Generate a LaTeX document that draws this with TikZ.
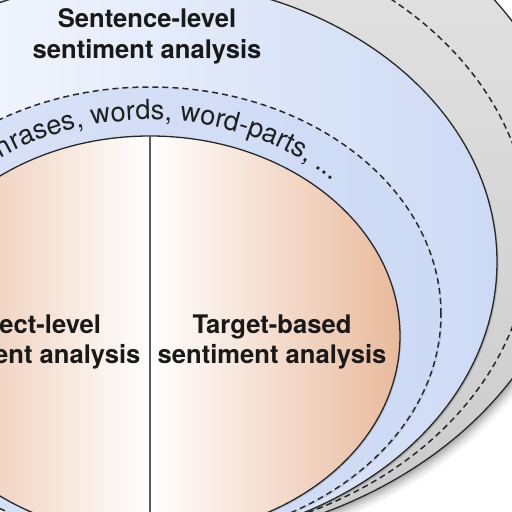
\documentclass[tikz,border=0pt]{standalone}
\usepackage{fontspec}
\setmainfont{TeX Gyre Heros}
\usetikzlibrary{decorations.text}
\definecolor{lblue}{RGB}{205,218,245}
\definecolor{lorange}{RGB}{233,186,156}
\definecolor{edge}{RGB}{40,40,40}
\begin{document}
\begin{tikzpicture}[x=1pt,y=1pt,
  ell/.style={draw=edge, line width=1.3pt},
  dsh/.style={draw=edge, line width=1.5pt, dash pattern=on 6pt off 4pt},
  lbl/.style={font=\fontsize{25.6}{30.5}\selectfont\bfseries, align=center, inner sep=0pt, text=black!90}]
\useasboundingbox (0,0) rectangle (512,512);
\clip (0,0) rectangle (512,512);
% soft shadow of the outer ellipse
\foreach \i/\o in {1/0.10,2/0.08,3/0.07,4/0.05,5/0.04,6/0.03}{
  \fill[black,opacity=\o] (140+\i*1.3, 312-\i*1.7) ellipse [x radius=435, y radius=345];
}
% outer gray ellipse
\path[ell, top color=gray!20, bottom color=gray!42] (140,312) ellipse [x radius=435, y radius=345];
% gray dashed ellipse
\draw[dsh] (150,277) ellipse [x radius=380, y radius=305];
% sentence-level ellipse
\fill[black,opacity=0.15] (141.5,248.3) ellipse [x radius=357, y radius=282];
\path[ell, left color=white, right color=lblue] (140,250) ellipse [x radius=357, y radius=282];
% phrase band
\fill[black,opacity=0.10] (151.2,196.6) ellipse [x radius=291, y radius=227];
\path[dsh, left color=lblue!75, right color=lblue] (150,198) ellipse [x radius=291, y radius=227];
% inner orange ellipse
\fill[black,opacity=0.12] (151.2,174.6) ellipse [x radius=250, y radius=200];
\path[ell, left color=lorange, right color=lorange, middle color=white] (150,176) ellipse [x radius=250, y radius=200];
% divider
\coordinate (dtop) at (150,376);
\coordinate (dbot) at (150,-30);
\draw[line width=1.4pt, draw=black!65] (dtop) -- (dbot);
% curved text
\path[decorate, decoration={text along path, text align=left,
  text format delimiters={|}{|},
  text={|\fontsize{27.3}{28}\selectfont\color{black!88}|phrases, words, word-parts, ...}}]
  (-12,346) arc[start angle=128.2, end angle=20, x radius=262, y radius=216];
% labels
\node[lbl, anchor=north] (sent) at (147,503.4) {Sentence-level\\sentiment analysis};
\node[lbl, anchor=north] (tgt) at (272,197.4) {Target-based\\sentiment analysis};
\node[lbl, anchor=north] (asp) at (26,197.4) {Aspect-level\\sentiment analysis};
\end{tikzpicture}
\end{document}
